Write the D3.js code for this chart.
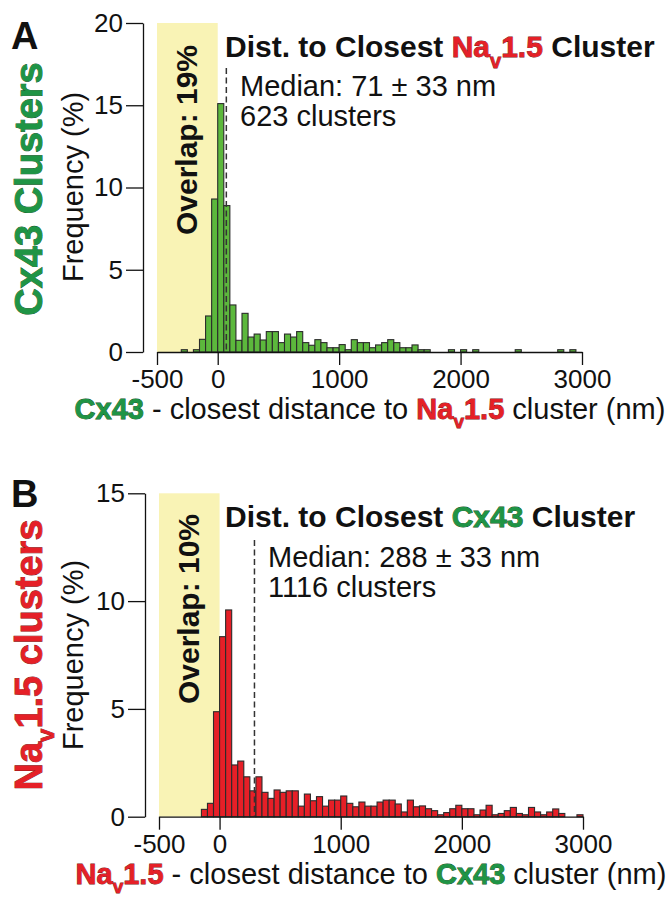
<!DOCTYPE html>
<html lang="en">
<head>
    <meta charset="UTF-8">
    <title>Cx43 / NaV1.5 cluster distances</title>
    <script src="https://d3js.org/d3.v7.min.js"></script>
    <style type="text/css">
        body {
            margin: 0;
            background: #ffffff;
        }
        svg text {
            font-family: "Liberation Sans", Arial, sans-serif;
        }
        .axis path, .axis line {
            stroke: #111;
            stroke-width: 1.3px;
        }
        .axis text {
            font-size: 26px;
            fill: #111;
        }
    </style>
</head>
<body>
    <script type="text/javascript">
        // Histogram bins: 50 nm wide, starting at -500 nm (70 bins up to 3000 nm)
        const binStart = -500;
        const binWidth = 50;
        const xTicks = [-500, 0, 1000, 2000, 3000];
        const yTicksA = [0, 5, 10, 15, 20];
        const yTicksB = [0, 5, 10, 15];

        // Panel A: Cx43 clusters, frequency (%) per bin
        const cx43Freq = [
            0, 0, 0, 0, 0.14, 0, 0.14, 0.77, 2.19, 9.3,
            15.1, 8.9, 2.86, 0.71, 2.35, 0.91, 1.09, 0.73, 1.24, 1.24,
            0.57, 1.09, 0.91, 1.24, 0.57, 0.41, 0.75, 0.57, 0.26, 0.26,
            0.45, 0.14, 0.75, 0.57, 0.57, 0.26, 0.43, 0.57, 0.75, 0.57,
            0.26, 0.26, 0.43, 0.14, 0.14, 0, 0, 0, 0.14, 0,
            0.14, 0, 0.14, 0, 0, 0, 0, 0, 0, 0.14,
            0, 0, 0, 0, 0, 0, 0.14, 0, 0.14, 0
        ];

        // Panel B: NaV1.5 clusters, frequency (%) per bin
        const navFreq = [
            0, 0, 0, 0, 0, 0, 0, 0.34, 0.62, 4.87,
            8.35, 9.59, 2.4, 2.58, 1.85, 1.2, 1.85, 1.13, 0.85, 1.24,
            1.13, 1.2, 1.2, 0.49, 1.05, 0.74, 0.93, 0.49, 0.77, 0.77,
            0.96, 0.62, 0.46, 0.68, 0.49, 0.49, 0.68, 0.77, 0.77, 0.59,
            0.22, 0.77, 0.46, 0.5, 0.37, 0.28, 0.09, 0.19, 0.37, 0.53,
            0.37, 0.37, 0.09, 0.31, 0.53, 0.09, 0.15, 0.28, 0.43, 0.15,
            0.09, 0.43, 0.22, 0.09, 0.22, 0.36, 0.15, 0, 0, 0.09
        ];

        const medianA = 71;
        const medianB = 288;

        const green = '#1f9445';
        const red = '#e52027';
        const barGreen = '#5cb83c';
        const barRed = '#e61f27';
        const yellow = '#f9f3b5';

        const svg = d3.select('body').append('svg')
            .attr('width', 672)
            .attr('height', 897);

        // write a line made of styled pieces (bold / colour / subscript)
        function richText(text, parts, subSize, subDy) {
            let wasSub = false;
            parts.forEach(p => {
                const t = text.append('tspan').text(p.t)
                    .attr('font-weight', p.bold ? 'bold' : 'normal')
                    .attr('fill', p.color || '#111');
                if (p.sub) {
                    t.attr('font-size', subSize).attr('dy', subDy);
                    wasSub = true;
                } else if (wasSub) {
                    t.attr('dy', -subDy);
                    wasSub = false;
                }
                if (p.color) {
                    t.attr('stroke', p.color === red ? '#7a1616' : '#0f5225')
                     .attr('stroke-width', 0.8)
                     .attr('paint-order', 'stroke');
                }
            });
            return text;
        }

        function rotated(x, y, size, parts, subSize, subDy) {
            const t = svg.append('text')
                .attr('transform', `translate(${x},${y}) rotate(-90)`)
                .attr('text-anchor', 'middle')
                .attr('font-size', size);
            return richText(t, parts, subSize, subDy);
        }

        function plain(x, y, size, parts, anchor, subSize, subDy) {
            const t = svg.append('text')
                .attr('x', x).attr('y', y)
                .attr('text-anchor', anchor || 'start')
                .attr('font-size', size);
            return richText(t, parts, subSize, subDy);
        }

        function drawPanel(p) {
            const x = d3.scaleLinear().domain([-500, 3000]).range([p.x0, p.x1]);
            const y = d3.scaleLinear().domain([0, p.yMax]).range([p.base, p.top]);

            // overlap region
            svg.append('rect')
                .attr('x', x(-500))
                .attr('y', y(p.yMax))
                .attr('width', x(0) - x(-500))
                .attr('height', y(0) - y(p.yMax))
                .attr('fill', yellow);

            const bins = p.values
                .map((v, i) => ({ x0: binStart + i * binWidth, v: v }))
                .filter(d => d.v > 0);

            svg.append('g').selectAll('rect')
                .data(bins)
                .join('rect')
                .attr('x', d => x(d.x0))
                .attr('y', d => y(d.v))
                .attr('width', d => x(d.x0 + binWidth) - x(d.x0))
                .attr('height', d => y(0) - y(d.v))
                .attr('fill', p.fill)
                .attr('stroke', '#2b2b2b')
                .attr('stroke-width', 1.1);

            // median marker
            svg.append('line')
                .attr('x1', x(p.median)).attr('x2', x(p.median))
                .attr('y1', p.medianTop).attr('y2', y(0))
                .attr('stroke', '#333')
                .attr('stroke-width', 1.5)
                .attr('stroke-dasharray', '6,3.5');

            const yAxis = d3.axisLeft(y).tickValues(p.yTicks)
                .tickSize(17).tickPadding(3).tickSizeOuter(0);
            svg.append('g')
                .attr('class', 'axis')
                .attr('transform', `translate(${p.yAxisX},0)`)
                .call(yAxis);

            const xAxis = d3.axisBottom(x).tickValues(xTicks)
                .tickSize(13).tickPadding(5).tickSizeOuter(0)
                .tickFormat(d => String(d));
            svg.append('g')
                .attr('class', 'axis')
                .attr('transform', `translate(0,${p.base})`)
                .call(xAxis);
        }

        // ---- Panel A ----
        drawPanel({
            x0: 157, x1: 582, base: 352, top: 23, yMax: 20, yAxisX: 143,
            yTicks: yTicksA, values: cx43Freq, fill: barGreen,
            median: medianA, medianTop: 68
        });

        plain(11, 49, 38, [{ t: 'A', bold: true }]);
        rotated(42, 189, 38, [{ t: 'Cx43 Clusters', bold: true, color: green }]);
        rotated(83, 187, 29, [{ t: 'Frequency (%)' }]);
        rotated(197, 140, 30, [{ t: 'Overlap: 19%', bold: true }]);
        plain(225, 57, 30, [
            { t: 'Dist. to Closest ', bold: true },
            { t: 'Na', bold: true, color: red },
            { t: 'v', bold: true, color: red, sub: true },
            { t: '1.5', bold: true, color: red },
            { t: ' Cluster', bold: true }
        ], 'start', 20, 11);
        plain(240, 96, 29, [{ t: 'Median: 71 \u00b1 33 nm' }]);
        plain(240, 126, 29, [{ t: '623 clusters' }]);
        plain(370, 419, 29, [
            { t: 'Cx43', bold: true, color: green },
            { t: ' - closest distance to ' },
            { t: 'Na', bold: true, color: red },
            { t: 'v', bold: true, color: red, sub: true },
            { t: '1.5', bold: true, color: red },
            { t: ' cluster (nm)' }
        ], 'middle', 19, 9);

        // ---- Panel B ----
        drawPanel({
            x0: 159, x1: 583, base: 816.7, top: 493.3, yMax: 15, yAxisX: 145,
            yTicks: yTicksB, values: navFreq, fill: barRed,
            median: medianB, medianTop: 540
        });

        plain(11, 507, 38, [{ t: 'B', bold: true }]);
        rotated(42, 655, 38, [
            { t: 'Na', bold: true, color: red },
            { t: 'v', bold: true, color: red, sub: true },
            { t: '1.5 clusters', bold: true, color: red }
        ], 24, 12);
        rotated(83, 655, 29, [{ t: 'Frequency (%)' }]);
        rotated(199, 609, 30, [{ t: 'Overlap: 10%', bold: true }]);
        plain(225, 527, 30, [
            { t: 'Dist. to Closest ', bold: true },
            { t: 'Cx43', bold: true, color: green },
            { t: ' Cluster', bold: true }
        ]);
        plain(268, 567, 29, [{ t: 'Median: 288 \u00b1 33 nm' }]);
        plain(268, 597, 29, [{ t: '1116 clusters' }]);
        plain(371, 884, 29, [
            { t: 'Na', bold: true, color: red },
            { t: 'v', bold: true, color: red, sub: true },
            { t: '1.5', bold: true, color: red },
            { t: ' - closest distance to ' },
            { t: 'Cx43', bold: true, color: green },
            { t: ' cluster (nm)' }
        ], 'middle', 19, 9);
    </script>
</body>
</html>
